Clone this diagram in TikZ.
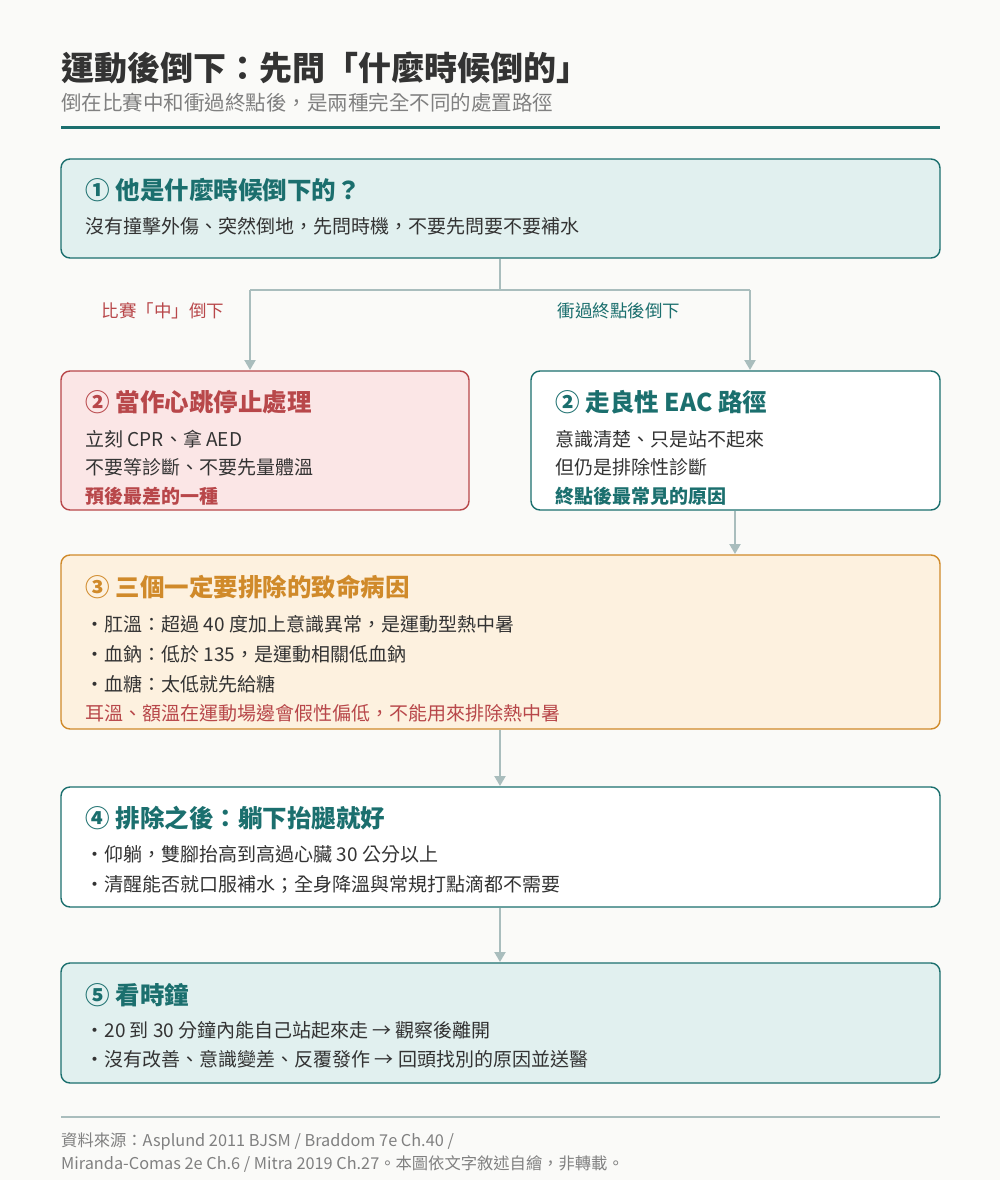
\documentclass[tikz,border=0pt]{standalone}
\usepackage{fontspec}
\setmainfont{Noto Sans CJK TC}
\usetikzlibrary{arrows.meta}
\definecolor{teal}{HTML}{1B6F6E}
\definecolor{tealfill}{HTML}{E1F0EF}
\definecolor{redb}{HTML}{B8474A}
\definecolor{redfill}{HTML}{FBE6E6}
\definecolor{orb}{HTML}{D08A2A}
\definecolor{orfill}{HTML}{FDF1DF}
\definecolor{conn}{HTML}{A9BDBD}
\definecolor{txt}{HTML}{333333}
\definecolor{bg}{HTML}{FAFAF8}
\begin{document}
\begin{tikzpicture}[x=1pt,y=-1pt,
 box/.style={draw=#1,line width=1.4pt,rounded corners=9pt},
 hd/.style={anchor=west,font=\fontsize{24.5}{28}\selectfont\bfseries},
 tx/.style={anchor=west,font=\fontsize{19}{22}\selectfont,text=txt},
 ar/.style={draw=conn,line width=2.2pt,-{Triangle[width=11pt,length=10pt]}},
 ln/.style={draw=conn,line width=2.2pt}]
\fill[bg] (0,0) rectangle (1000,1180);
\useasboundingbox (0,0) rectangle (1000,1180);
\node[anchor=west,inner sep=0pt,font=\fontsize{33}{36}\selectfont\bfseries,text=txt] (title) at (61,68) {運動後倒下：先問「什麼時候倒的」};
\node[anchor=west,inner sep=0pt,font=\fontsize{20.5}{23}\selectfont,text=gray] (sub) at (61,103) {倒在比賽中和衝過終點後，是兩種完全不同的處置路徑};
\draw[teal,line width=3pt] (61,128) -- (940,128);
% boxes
\draw[box=teal,fill=tealfill] (61,159) rectangle (940,258);
\node[hd,text=teal] at (82,190) {① 他是什麼時候倒下的？};
\node[tx] at (82,226) {沒有撞擊外傷、突然倒地，先問時機，不要先問要不要補水};
\draw[box=redb,fill=redfill] (61,371) rectangle (469,510);
\node[hd,text=redb] at (82,402) {② 當作心跳停止處理};
\node[tx] at (82,439) {立刻 CPR、拿 AED};
\node[tx] at (82,467) {不要等診斷、不要先量體溫};
\node[tx,text=redb,font=\fontsize{19}{22}\selectfont\bfseries] at (82,496) {預後最差的一種};
\draw[box=teal,fill=white] (531,371) rectangle (940,510);
\node[hd,text=teal] at (552,402) {② 走良性 EAC 路徑};
\node[tx] at (552,439) {意識清楚、只是站不起來};
\node[tx] at (552,467) {但仍是排除性診斷};
\node[tx,text=teal,font=\fontsize{19}{22}\selectfont\bfseries] at (552,496) {終點後最常見的原因};
\draw[box=orb,fill=orfill] (61,555) rectangle (940,729);
\node[hd,text=orb] at (82,587) {③ 三個一定要排除的致命病因};
\node[tx] at (82,624) {・肛溫：超過 40 度加上意識異常，是運動型熱中暑};
\node[tx] at (82,654) {・血鈉：低於 135，是運動相關低血鈉};
\node[tx] at (82,684) {・血糖：太低就先給糖};
\node[tx,text=redb] at (82,713) {耳溫、額溫在運動場邊會假性偏低，不能用來排除熱中暑};
\draw[box=teal,fill=white] (61,787) rectangle (940,907);
\node[hd,text=teal] at (82,818) {④ 排除之後：躺下抬腿就好};
\node[tx] at (82,854) {・仰躺，雙腳抬高到高過心臟 30 公分以上};
\node[tx] at (82,884) {・清醒能否就口服補水；全身降溫與常規打點滴都不需要};
\draw[box=teal,fill=tealfill] (61,963) rectangle (940,1083);
\node[hd,text=teal] at (82,995) {⑤ 看時鐘};
\node[tx] at (82,1030) {・20 到 30 分鐘內能自己站起來走 → 觀察後離開};
\node[tx] at (82,1059) {・沒有改善、意識變差、反覆發作 → 回頭找別的原因並送醫};
% connectors
\coordinate (s) at (500,259);
\coordinate (j) at (500,290);
\coordinate (l) at (250,290);
\coordinate (r) at (750,290);
\coordinate (le) at (250,370);
\coordinate (re) at (750,370);
\draw[ln] (s) -- (j); \draw[ln] (l) -- (r);
\draw[ar] (l) -- (le); \draw[ar] (r) -- (re);
\node[font=\fontsize{17.5}{20}\selectfont,text=redb] at (163,311) {比賽「中」倒下};
\node[font=\fontsize{17.5}{20}\selectfont,text=teal] at (619,311) {衝過終點後倒下};
\coordinate (a1) at (735,511); \coordinate (a2) at (735,554);
\draw[ar] (a1) -- (a2);
\coordinate (c1) at (500,730); \coordinate (c2) at (500,786);
\draw[ar] (c1) -- (c2);
\coordinate (d1) at (500,908); \coordinate (d2) at (500,962);
\draw[ar] (d1) -- (d2);
\draw[conn,line width=1.5pt] (61,1117) -- (940,1117);
\node[anchor=west,inner sep=0pt,font=\fontsize{16.3}{19}\selectfont,text=gray] at (61,1141) {資料來源：Asplund 2011 BJSM / Braddom 7e Ch.40 /};
\node[anchor=west,inner sep=0pt,font=\fontsize{16.3}{19}\selectfont,text=gray] at (61,1164) {Miranda-Comas 2e Ch.6 / Mitra 2019 Ch.27。本圖依文字敘述自繪，非轉載。};
\end{tikzpicture}
\end{document}
